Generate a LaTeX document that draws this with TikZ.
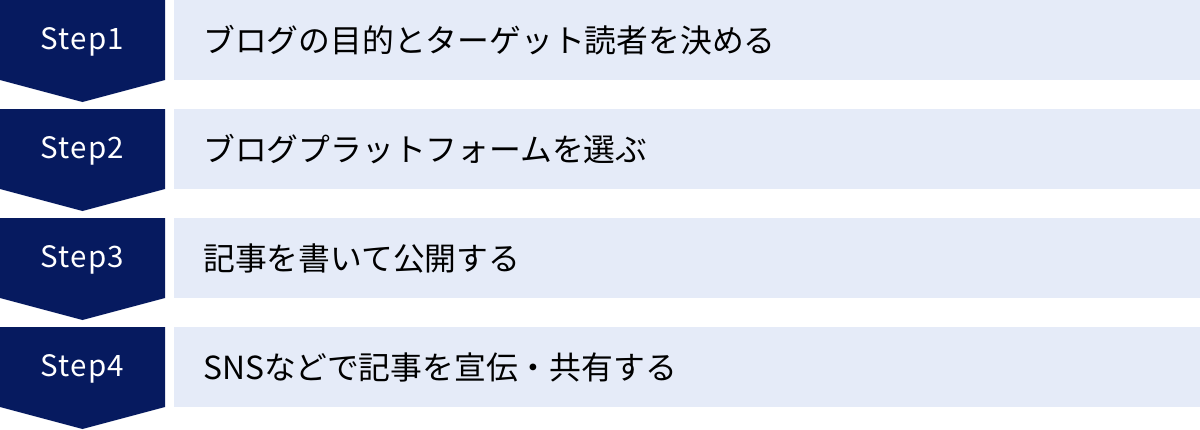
\documentclass[tikz,border=0pt]{standalone}
\usepackage{fontspec}
\newfontfamily\jpfont{Noto Sans CJK JP}
\newfontfamily\stepfont[LetterSpace=4]{Noto Sans CJK JP}
\definecolor{navy}{HTML}{061A5F}
\definecolor{pale}{HTML}{E5EBF8}
\tikzset{
  chevron/.style={fill=navy},
  panel/.style={fill=pale, draw=none, inner sep=0pt, anchor=north west, minimum width=1026pt, minimum height=80pt},
  steplabel/.style={text=white, font=\stepfont\fontsize{29.5}{34}\selectfont, inner sep=0pt},
  itemtext/.style={text=black, font=\jpfont\fontsize{31.8}{36}\selectfont, anchor=west, inner sep=0pt}
}
\begin{document}
\begin{tikzpicture}[x=1pt,y=-1pt]
\useasboundingbox (0,0) rectangle (1200,429);
\foreach \i/\txt in {1/ブログの目的とターゲット読者を決める, 2/ブログプラットフォームを選ぶ, 3/記事を書いて公開する, 4/SNSなどで記事を宣伝・共有する}{
  \pgfmathsetmacro{\t}{109*(\i-1)}
  \fill[chevron] (0,\t) -- (165,\t) -- (165,\t+80) -- (82.5,\t+102) -- (0,\t+80) -- cycle;
  \node[steplabel] (s\i) at (82.5,\t+42) {Step\i};
  \node[panel] (b\i) at (174,\t) {};
  \node[itemtext] (t\i) at (203,\t+40.5) {\txt};
}
\end{tikzpicture}
\end{document}
